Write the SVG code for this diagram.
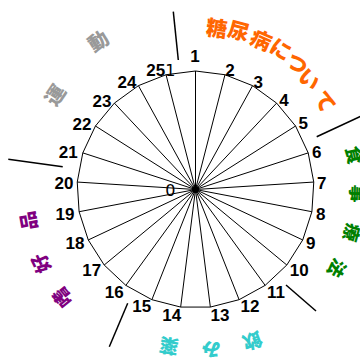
<svg xmlns="http://www.w3.org/2000/svg" width="360" height="358" viewBox="0 0 360 358">
<style>
.ln{stroke:#000;stroke-width:1;fill:none}
.tk{stroke:#000;stroke-width:1.5;fill:none}
.n{font-family:"Liberation Sans",Arial,sans-serif;font-size:17px;font-weight:bold;fill:#000;text-anchor:middle}
.s{font-family:"DejaVu Sans",sans-serif;font-size:16px;fill:#000;text-anchor:end}
.j{font-family:"Noto Sans CJK JP",sans-serif;font-weight:900;text-anchor:middle}
.o{fill:#FF6600;font-size:21px}
.g{fill:#008000;font-size:18px}
.c{fill:#33CCCC;font-size:19px}
.p{fill:#800080;font-size:19px}
.y{fill:#999999;font-size:20px}
</style>
<rect width="360" height="358" fill="#fff"/>
<g id="chart">
<polygon class="ln" points="195.5,71 224.97,74.72 252.59,85.66 276.61,103.11 295.55,126.01 308.2,152.88 313.76,182.06 311.9,211.71 302.72,239.96 286.8,265.03 265.15,285.37 239.12,299.68 210.35,307.07 180.65,307.07 151.88,299.68 125.85,285.37 104.2,265.03 88.28,239.96 79.1,211.71 77.24,182.06 82.8,152.88 95.45,126.01 114.39,103.11 138.41,85.66 166.03,74.72"/>
<path class="ln" d="M195.5,189.5L195.5,71M195.5,189.5L224.97,74.72M195.5,189.5L252.59,85.66M195.5,189.5L276.61,103.11M195.5,189.5L295.55,126.01M195.5,189.5L308.2,152.88M195.5,189.5L313.76,182.06M195.5,189.5L311.9,211.71M195.5,189.5L302.72,239.96M195.5,189.5L286.8,265.03M195.5,189.5L265.15,285.37M195.5,189.5L239.12,299.68M195.5,189.5L210.35,307.07M195.5,189.5L180.65,307.07M195.5,189.5L151.88,299.68M195.5,189.5L125.85,285.37M195.5,189.5L104.2,265.03M195.5,189.5L88.28,239.96M195.5,189.5L79.1,211.71M195.5,189.5L77.24,182.06M195.5,189.5L82.8,152.88M195.5,189.5L95.45,126.01M195.5,189.5L114.39,103.11M195.5,189.5L138.41,85.66M195.5,189.5L166.03,74.72"/>
<circle cx="195.5" cy="189.5" r="3.5" fill="#000"/>
<text class="s" x="175.5" y="195.5">0</text>
<text class="s" x="175.5" y="76">1</text>
</g>
<g id="connectors">
<line class="tk" x1="173.3" y1="11.7" x2="178.3" y2="60"/>
<line class="tk" x1="316.7" y1="136.7" x2="372" y2="111"/>
<line class="tk" x1="286" y1="285" x2="316" y2="311"/>
<line class="tk" x1="127.7" y1="303.3" x2="109.3" y2="346.7"/>
<line class="tk" x1="8.3" y1="159.3" x2="62.7" y2="166.7"/>
</g>
<g id="numbers">
<text class="n" x="195" y="62.3">1</text>
<text class="n" x="230" y="76.1">2</text>
<text class="n" x="258.3" y="87.8">3</text>
<text class="n" x="284" y="106.1">4</text>
<text class="n" x="303.3" y="129.4">5</text>
<text class="n" x="316.7" y="157.8">6</text>
<text class="n" x="321.7" y="189.4">7</text>
<text class="n" x="320.7" y="220.1">8</text>
<text class="n" x="310.7" y="249.4">9</text>
<text class="n" x="299.3" y="276.1">10</text>
<text class="n" x="276" y="297.8">11</text>
<text class="n" x="250" y="311.8">12</text>
<text class="n" x="220" y="321.1">13</text>
<text class="n" x="171.7" y="321.1">14</text>
<text class="n" x="141.7" y="312.1">15</text>
<text class="n" x="114.3" y="297.8">16</text>
<text class="n" x="91.7" y="276.1">17</text>
<text class="n" x="75" y="249.4">18</text>
<text class="n" x="65" y="220.1">19</text>
<text class="n" x="64" y="188.8">20</text>
<text class="n" x="68.3" y="158.4">21</text>
<text class="n" x="82" y="130.1">22</text>
<text class="n" x="102" y="106.8">23</text>
<text class="n" x="127" y="87.8">24</text>
<text class="n" x="155.7" y="75.8">25</text>
</g>
<g id="sector-about" class="j o">
<text transform="translate(216.7,28.3) rotate(7.5)" y="8">糖</text>
<text transform="translate(238.8,30.8) rotate(15.1)" y="8">尿</text>
<text transform="translate(261.2,40) rotate(23.9)" y="8">病</text>
<text transform="translate(280.8,49.2) rotate(31.3)" y="8">に</text>
<text transform="translate(297.5,63.3) rotate(38.9)" y="8">つ</text>
<text transform="translate(309.2,79.2) rotate(45.9)" y="8">い</text>
<text transform="translate(325,101.7) rotate(55.9)" y="8">て</text>
</g>
<g id="sector-diet" class="j g">
<text transform="translate(354,155) rotate(77.7)" y="6.8">食</text>
<text transform="translate(357.4,193.7) rotate(91.5)" y="6.8">事</text>
<text transform="translate(351.7,232.5) rotate(105.4)" y="6.8">療</text>
<text transform="translate(336.7,268.3) rotate(119.2)" y="6.8">法</text>
</g>
<g id="sector-medicine" class="j c">
<text transform="translate(252.5,340.8) rotate(159.4)" y="7.2">飲</text>
<text transform="translate(211.2,349.5) rotate(174.3)" y="7.2">み</text>
<text transform="translate(169,346) rotate(189.6)" y="7.2">薬</text>
</g>
<g id="sector-preference" class="j p">
<text transform="translate(62.5,297.5) rotate(230.9)" y="7.2">嗜</text>
<text transform="translate(41,263.3) rotate(244.5)" y="7.2">好</text>
<text transform="translate(28.3,220.8) rotate(259.4)" y="7.2">品</text>
</g>
<g id="sector-exercise" class="j y">
<text transform="translate(55,95) rotate(303.9)" y="7.6">運</text>
<text transform="translate(98.3,40.8) rotate(326.8)" y="7.6">動</text>
</g>
</svg>
